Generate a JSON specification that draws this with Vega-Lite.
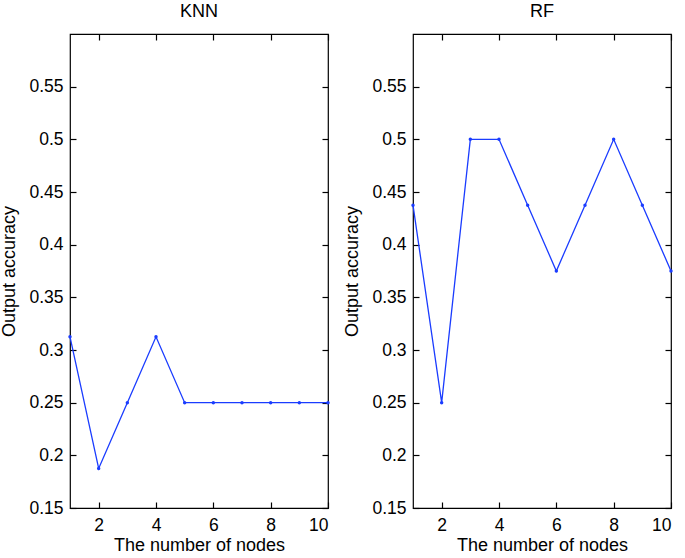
{
  "$schema": "https://vega.github.io/schema/vega-lite/v6.json",
  "background": "white",
  "padding": {"left": 0, "top": 2, "right": 5, "bottom": 4},
  "spacing": 85,
  "bounds": "flush",
  "config": {
    "font": "Liberation Sans",
    "view": {"stroke": "black", "strokeWidth": 1.2},
    "axis": {
      "grid": false,
      "domain": false,
      "ticks": true,
      "tickColor": "black",
      "tickSize": -6,
      "tickWidth": 1.2,
      "labelColor": "black",
      "titleColor": "black",
      "labelFont": "Liberation Sans",
      "titleFont": "Liberation Sans",
      "labelFontSize": 17.5,
      "titleFontSize": 18,
      "titleFontWeight": "normal"
    },
    "title": {"font": "Liberation Sans", "fontSize": 18, "fontWeight": "normal", "color": "black", "offset": 12}
  },
  "datasets": {
    "acc": [
      {"model": "KNN", "nodes": 1, "accuracy": 0.3125},
      {"model": "KNN", "nodes": 2, "accuracy": 0.1875},
      {"model": "KNN", "nodes": 3, "accuracy": 0.25},
      {"model": "KNN", "nodes": 4, "accuracy": 0.3125},
      {"model": "KNN", "nodes": 5, "accuracy": 0.25},
      {"model": "KNN", "nodes": 6, "accuracy": 0.25},
      {"model": "KNN", "nodes": 7, "accuracy": 0.25},
      {"model": "KNN", "nodes": 8, "accuracy": 0.25},
      {"model": "KNN", "nodes": 9, "accuracy": 0.25},
      {"model": "KNN", "nodes": 10, "accuracy": 0.25},
      {"model": "RF", "nodes": 1, "accuracy": 0.4375},
      {"model": "RF", "nodes": 2, "accuracy": 0.25},
      {"model": "RF", "nodes": 3, "accuracy": 0.5},
      {"model": "RF", "nodes": 4, "accuracy": 0.5},
      {"model": "RF", "nodes": 5, "accuracy": 0.4375},
      {"model": "RF", "nodes": 6, "accuracy": 0.375},
      {"model": "RF", "nodes": 7, "accuracy": 0.4375},
      {"model": "RF", "nodes": 8, "accuracy": 0.5},
      {"model": "RF", "nodes": 9, "accuracy": 0.4375},
      {"model": "RF", "nodes": 10, "accuracy": 0.375}
    ]
  },
  "hconcat": [
    {
      "title": "KNN",
      "width": 258,
      "height": 474,
      "data": {"name": "acc"},
      "transform": [{"filter": "datum.model === 'KNN'"}],
      "resolve": {"axis": {"x": "independent", "y": "independent"}},
      "layer": [
        {
          "mark": {"type": "line", "color": "#1a3cff", "strokeWidth": 1.3, "clip": false, "point": {"filled": true, "size": 12, "color": "#1a3cff"}},
          "encoding": {
            "x": {"field": "nodes", "type": "quantitative", "scale": {"domain": [1, 10], "nice": false, "zero": false},
                  "axis": {"orient": "bottom", "values": [2, 4, 6, 8, 10], "title": "The number of nodes", "labelPadding": 14, "titlePadding": 3}},
            "y": {"field": "accuracy", "type": "quantitative", "scale": {"domain": [0.15, 0.6], "nice": false, "zero": false},
                  "axis": {"orient": "left", "values": [0.15, 0.2, 0.25, 0.3, 0.35, 0.4, 0.45, 0.5, 0.55], "format": ".2~f", "title": "Output accuracy", "labelPadding": 13, "titlePadding": 10}}
          }
        },
        {
          "mark": {"type": "point", "opacity": 0},
          "encoding": {
            "x": {"field": "nodes", "type": "quantitative",
                  "axis": {"orient": "top", "values": [2, 4, 6, 8, 10], "labels": false, "title": null}},
            "y": {"field": "accuracy", "type": "quantitative",
                  "axis": {"orient": "right", "values": [0.15, 0.2, 0.25, 0.3, 0.35, 0.4, 0.45, 0.5, 0.55], "labels": false, "title": null}}
          }
        }
      ]
    },
    {
      "title": "RF",
      "width": 258,
      "height": 474,
      "data": {"name": "acc"},
      "transform": [{"filter": "datum.model === 'RF'"}],
      "resolve": {"axis": {"x": "independent", "y": "independent"}},
      "layer": [
        {
          "mark": {"type": "line", "color": "#1a3cff", "strokeWidth": 1.3, "clip": false, "point": {"filled": true, "size": 12, "color": "#1a3cff"}},
          "encoding": {
            "x": {"field": "nodes", "type": "quantitative", "scale": {"domain": [1, 10], "nice": false, "zero": false},
                  "axis": {"orient": "bottom", "values": [2, 4, 6, 8, 10], "title": "The number of nodes", "labelPadding": 14, "titlePadding": 3}},
            "y": {"field": "accuracy", "type": "quantitative", "scale": {"domain": [0.15, 0.6], "nice": false, "zero": false},
                  "axis": {"orient": "left", "values": [0.15, 0.2, 0.25, 0.3, 0.35, 0.4, 0.45, 0.5, 0.55], "format": ".2~f", "title": "Output accuracy", "labelPadding": 13, "titlePadding": 10}}
          }
        },
        {
          "mark": {"type": "point", "opacity": 0},
          "encoding": {
            "x": {"field": "nodes", "type": "quantitative",
                  "axis": {"orient": "top", "values": [2, 4, 6, 8, 10], "labels": false, "title": null}},
            "y": {"field": "accuracy", "type": "quantitative",
                  "axis": {"orient": "right", "values": [0.15, 0.2, 0.25, 0.3, 0.35, 0.4, 0.45, 0.5, 0.55], "labels": false, "title": null}}
          }
        }
      ]
    }
  ]
}
